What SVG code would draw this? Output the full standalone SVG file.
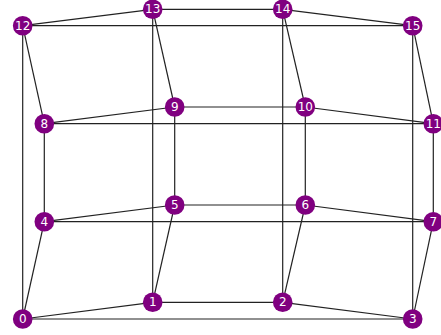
<svg xmlns="http://www.w3.org/2000/svg" width="441" height="335" viewBox="0 0 441 335">
<style>
.e{stroke:#222;stroke-width:1.2;fill:none}
.n circle{fill:#800080}
.n text{fill:#fff;font-family:"DejaVu Sans",sans-serif;font-size:12px;text-anchor:middle;dominant-baseline:central}
</style>
<rect width="441" height="335" fill="#fff"/>
<g id="edges">
<line class="e" x1="22.7" y1="319" x2="152.7" y2="302.3"/>
<line class="e" x1="152.7" y1="302.3" x2="282.7" y2="302.3"/>
<line class="e" x1="282.7" y1="302.3" x2="412.7" y2="319"/>
<line class="e" x1="412.7" y1="319" x2="22.7" y2="319"/>
<line class="e" x1="44.3" y1="221.7" x2="174.7" y2="205"/>
<line class="e" x1="174.7" y1="205" x2="305.3" y2="205"/>
<line class="e" x1="305.3" y1="205" x2="433.3" y2="221.7"/>
<line class="e" x1="433.3" y1="221.7" x2="44.3" y2="221.7"/>
<line class="e" x1="44.3" y1="123.7" x2="174.7" y2="107"/>
<line class="e" x1="174.7" y1="107" x2="305.3" y2="107"/>
<line class="e" x1="305.3" y1="107" x2="433.3" y2="123.7"/>
<line class="e" x1="433.3" y1="123.7" x2="44.3" y2="123.7"/>
<line class="e" x1="22.7" y1="25.7" x2="152.7" y2="9.3"/>
<line class="e" x1="152.7" y1="9.3" x2="282.7" y2="9.3"/>
<line class="e" x1="282.7" y1="9.3" x2="412.7" y2="25.7"/>
<line class="e" x1="412.7" y1="25.7" x2="22.7" y2="25.7"/>
<line class="e" x1="22.7" y1="319" x2="44.3" y2="221.7"/>
<line class="e" x1="44.3" y1="221.7" x2="44.3" y2="123.7"/>
<line class="e" x1="44.3" y1="123.7" x2="22.7" y2="25.7"/>
<line class="e" x1="22.7" y1="25.7" x2="22.7" y2="319"/>
<line class="e" x1="152.7" y1="302.3" x2="174.7" y2="205"/>
<line class="e" x1="174.7" y1="205" x2="174.7" y2="107"/>
<line class="e" x1="174.7" y1="107" x2="152.7" y2="9.3"/>
<line class="e" x1="152.7" y1="9.3" x2="152.7" y2="302.3"/>
<line class="e" x1="282.7" y1="302.3" x2="305.3" y2="205"/>
<line class="e" x1="305.3" y1="205" x2="305.3" y2="107"/>
<line class="e" x1="305.3" y1="107" x2="282.7" y2="9.3"/>
<line class="e" x1="282.7" y1="9.3" x2="282.7" y2="302.3"/>
<line class="e" x1="412.7" y1="319" x2="433.3" y2="221.7"/>
<line class="e" x1="433.3" y1="221.7" x2="433.3" y2="123.7"/>
<line class="e" x1="433.3" y1="123.7" x2="412.7" y2="25.7"/>
<line class="e" x1="412.7" y1="25.7" x2="412.7" y2="319"/>
</g>
<g id="n0" class="n"><circle cx="22.7" cy="319" r="9.8"/><text x="22.7" y="319">0</text></g>
<g id="n1" class="n"><circle cx="152.7" cy="302.3" r="9.8"/><text x="152.7" y="302.3">1</text></g>
<g id="n2" class="n"><circle cx="282.7" cy="302.3" r="9.8"/><text x="282.7" y="302.3">2</text></g>
<g id="n3" class="n"><circle cx="412.7" cy="319" r="9.8"/><text x="412.7" y="319">3</text></g>
<g id="n4" class="n"><circle cx="44.3" cy="221.7" r="9.8"/><text x="44.3" y="221.7">4</text></g>
<g id="n5" class="n"><circle cx="174.7" cy="205" r="9.8"/><text x="174.7" y="205">5</text></g>
<g id="n6" class="n"><circle cx="305.3" cy="205" r="9.8"/><text x="305.3" y="205">6</text></g>
<g id="n7" class="n"><circle cx="433.3" cy="221.7" r="9.8"/><text x="433.3" y="221.7">7</text></g>
<g id="n8" class="n"><circle cx="44.3" cy="123.7" r="9.8"/><text x="44.3" y="123.7">8</text></g>
<g id="n9" class="n"><circle cx="174.7" cy="107" r="9.8"/><text x="174.7" y="107">9</text></g>
<g id="n10" class="n"><circle cx="305.3" cy="107" r="9.8"/><text x="305.3" y="107">10</text></g>
<g id="n11" class="n"><circle cx="433.3" cy="123.7" r="9.8"/><text x="433.3" y="123.7">11</text></g>
<g id="n12" class="n"><circle cx="22.7" cy="25.7" r="9.8"/><text x="22.7" y="25.7">12</text></g>
<g id="n13" class="n"><circle cx="152.7" cy="9.3" r="9.8"/><text x="152.7" y="9.3">13</text></g>
<g id="n14" class="n"><circle cx="282.7" cy="9.3" r="9.8"/><text x="282.7" y="9.3">14</text></g>
<g id="n15" class="n"><circle cx="412.7" cy="25.7" r="9.8"/><text x="412.7" y="25.7">15</text></g>
</svg>
